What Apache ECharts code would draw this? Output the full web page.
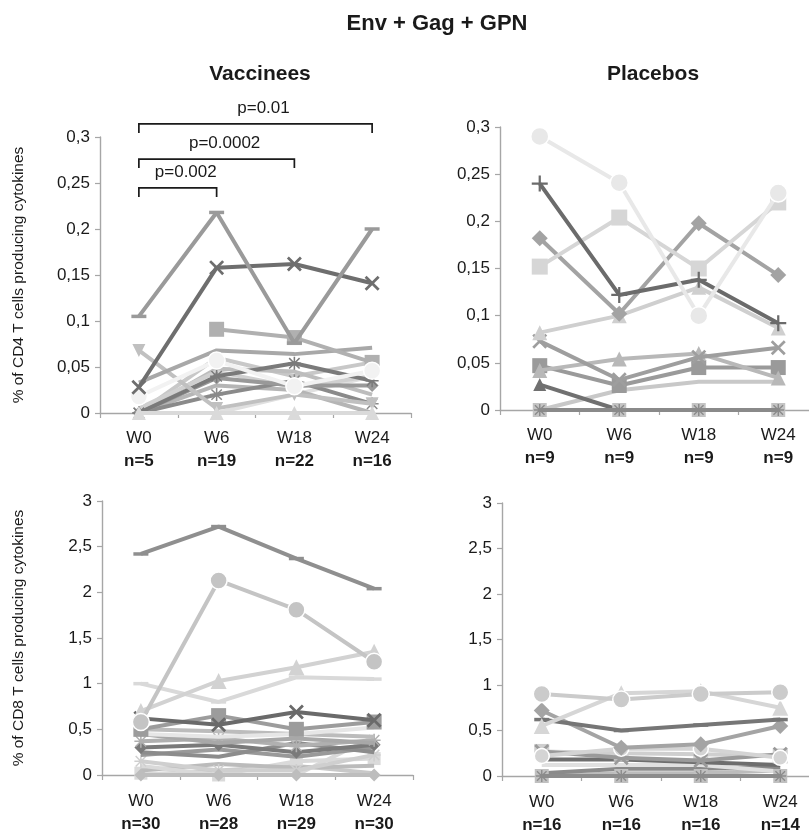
<!DOCTYPE html>
<html><head><meta charset="utf-8">
<script src="https://cdn.jsdelivr.net/npm/echarts@6/dist/echarts.min.js"></script>
<style>html,body{margin:0;padding:0;background:#fff}#c{width:809px;height:837px}</style>
</head><body><div id="c"></div><script>
// ---------- data ----------
const weeks = ['W0', 'W6', 'W18', 'W24'];
const nVacCD4 = [5, 19, 22, 16];
const nPlaCD4 = [9, 9, 9, 9];
const nVacCD8 = [30, 28, 29, 30];
const nPlaCD8 = [16, 16, 16, 14];
const ticksCD4 = ['0', '0,05', '0,1', '0,15', '0,2', '0,25', '0,3'];
const ticksCD8 = ['0', '0,5', '1', '1,5', '2', '2,5', '3'];

// each row = one subject: values at W0, W6, W18, W24
const vacCD4 = [
  [0, 0, 0.02, 0.04],
  [0, 0.03, 0.025, 0],
  [0, 0.06, 0.04, 0.055],
  [0, 0.048, 0.045, 0.02],
  [0.005, 0.045, 0.028, 0.04],
  [0, 0.02, 0.035, 0.01],
  [0, 0.038, 0.03, 0.03],
  [0, 0.04, 0.054, 0.035],
  [0.068, 0.005, 0.02, 0.01],
  [0.033, 0.068, 0.064, 0.071],
  [null, 0.091, 0.082, 0.055],
  [0, 0, 0, 0],
  [0.018, 0.057, 0.029, 0.046],
  [0.028, 0.158, 0.162, 0.141],
  [0.105, 0.218, 0.076, 0.2]
];
const plaCD4 = [
  [0, 0.021, 0.03, 0.03],
  [0.027, 0, null, null],
  [0.047, 0.026, 0.045, 0.045],
  [0.042, 0.054, 0.06, 0.034],
  [0.073, 0.032, 0.056, 0.066],
  [0.082, 0.1, 0.13, 0.087],
  [0.182, 0.102, 0.198, 0.143],
  [0.152, 0.204, 0.15, 0.22],
  [0.24, 0.122, 0.138, 0.092],
  [0.29, 0.241, 0.1, 0.23],
  [0, 0, 0, 0],
  [0, 0, 0, 0]
];
const vacCD8 = [
  [0, 0.05, 0.1, 0.02],
  [0.02, 0, 0.15, 0.18],
  [0.05, 0.12, 0.08, 0.1],
  [0.1, 0, 0, 0.42],
  [0.15, 0.05, 0.05, 0.22],
  [0.22, 0.28, 0.2, 0.3],
  [0.25, 0.2, 0.35, 0.25],
  [0.3, 0.33, 0.25, 0.33],
  [0.37, 0.4, 0.32, 0.38],
  [0.45, 0.35, 0.4, 0.35],
  [0.5, 0.48, 0.45, 0.42],
  [0.45, 0.42, 0.45, 0.52],
  [0.5, 0.65, 0.5, 0.58],
  [0.62, 0.55, 0.69, 0.6],
  [1.0, 0.8, 1.07, 1.05],
  [0.7, 1.03, 1.18, 1.35],
  [0.58, 2.13, 1.81, 1.24],
  [2.42, 2.72, 2.37, 2.04],
  [0, 0, 0, 0]
];
const plaCD8 = [
  [0, 0.03, 0.03, 0.06],
  [0.03, 0.08, 0.08, 0.1],
  [0.12, 0.12, 0.12, 0.05],
  [0.18, 0.18, 0.15, 0.12],
  [0.27, 0.25, 0.24, 0.22],
  [0.27, 0.2, 0.17, 0.24],
  [0.22, 0.3, 0.3, 0.2],
  [0.72, 0.31, 0.35, 0.55],
  [0.62, 0.5, 0.56, 0.62],
  [0.55, 0.91, 0.93, 0.75],
  [0.9, 0.84, 0.9, 0.92],
  [0, 0, 0, 0],
  [0, 0, 0, 0]
];
// p-value brackets on the vaccinee CD4 panel
const pFrom = ['W0', 'W0', 'W0'];
const pTo = ['W6', 'W18', 'W24'];
const pLevel = [0.2446, 0.276, 0.3142];
const pLabels = ['p=0.002', 'p=0.0002', 'p=0.01'];

// ---------- styles ----------
const SYM = {
  x: 'path://M0,1.3L1.3,0L5,3.7L8.7,0L10,1.3L6.3,5L10,8.7L8.7,10L5,6.3L1.3,10L0,8.7L3.7,5Z',
  plus: 'path://M4.3,0H5.7V4.3H10V5.7H5.7V10H4.3V5.7H0V4.3H4.3Z',
  star: 'path://M4.4,0H5.6V3.6L8.6,0.6L9.4,1.4L6.4,4.4H10V5.6H6.4L9.4,8.6L8.6,9.4L5.6,6.4V10H4.4V6.4L1.4,9.4L0.6,8.6L3.6,5.6H0V4.4H3.6L0.6,1.4L1.4,0.6L4.4,3.6Z'
};
// [symbol, color, size, rotate]
const stVacCD4 = [
  ['none', '#e0e0e0', 0], ['none', '#b5b5b5', 0], ['none', '#c8c8c8', 0], ['none', '#bdbdbd', 0],
  ['none', '#d0d0d0', 0], [SYM.star, '#8a8a8a', 13], ['diamond', '#999999', 13], [SYM.star, '#7a7a7a', 13],
  ['triangle', '#c0c0c0', 13, 180], ['none', '#a8a8a8', 0], ['rect', '#b0b0b0', 15], ['triangle', '#dadada', 14],
  ['circle', '#f2f2f2', 17], [SYM.x, '#6e6e6e', 15], ['rect', '#9a9a9a', [15, 3.5]]
];
const stPlaCD4 = [
  ['triangle', '#c8c8c8', 0], ['triangle', '#707070', 13], ['rect', '#9a9a9a', 15], ['triangle', '#b8b8b8', 15],
  [SYM.x, '#9e9e9e', 15], ['triangle', '#cfcfcf', 15], ['diamond', '#a3a3a3', 16], ['rect', '#d6d6d6', 16],
  [SYM.plus, '#6b6b6b', 16], ['circle', '#e8e8e8', 18], ['rect', '#c4c4c4', 14], [SYM.star, '#8a8a8a', 12]
];
const stVacCD8 = [
  ['none', '#c8c8c8', 0], ['rect', '#dadada', 13], ['none', '#bbbbbb', 0], ['none', '#d9d9d9', 0],
  [SYM.star, '#cfcfcf', 13], ['none', '#999999', 0], ['none', '#8c8c8c', 0], ['diamond', '#7a7a7a', 13],
  [SYM.star, '#b0b0b0', 13], ['none', '#a8a8a8', 0], ['none', '#bcbcbc', 0], ['none', '#e6e6e6', 0],
  ['rect', '#9c9c9c', 15], [SYM.x, '#6a6a6a', 15], ['rect', '#d9d9d9', [15, 3.5]], ['triangle', '#d2d2d2', 16],
  ['circle', '#c4c4c4', 17], ['rect', '#8f8f8f', [15, 3.5]], ['diamond', '#bdbdbd', 13]
];
const stPlaCD8 = [
  ['none', '#bcbcbc', 0], ['none', '#8a8a8a', 0], ['none', '#e0e0e0', 0], ['none', '#6e6e6e', 0],
  ['rect', '#cfcfcf', 15], [SYM.x, '#9a9a9a', 15], ['circle', '#d4d4d4', 15], ['diamond', '#a4a4a4', 16],
  ['rect', '#767676', [15, 3.5]], ['triangle', '#d6d6d6', 16], ['circle', '#cbcbcb', 17],
  ['rect', '#c0c0c0', 14], [SYM.star, '#8c8c8c', 12]
];

const FONT = 'Liberation Sans, Arial, sans-serif';
const grids = [
  { left: 100, top: 137, width: 311, height: 276 },
  { left: 500, top: 127, width: 318, height: 283 },
  { left: 102, top: 501, width: 311, height: 274 },
  { left: 502, top: 503, width: 318, height: 273 }
];
const nLists = [nVacCD4, nPlaCD4, nVacCD8, nPlaCD8];
const panels = [[vacCD4, stVacCD4], [plaCD4, stPlaCD4], [vacCD8, stVacCD8], [plaCD8, stPlaCD8]];

const xAxis = grids.map((g, i) => ({
  type: 'category', gridIndex: i, data: weeks, boundaryGap: true,
  axisLine: { lineStyle: { color: '#a6a6a6', width: 1.4 } },
  axisTick: { show: true, length: 5, inside: false, lineStyle: { color: '#a6a6a6', width: 1.2 } },
  axisLabel: {
    margin: i < 2 ? 14 : 15, interval: 0,
    formatter: (v, idx) => '{a|' + v + '}\n{b|n=' + nLists[i][idx] + '}',
    rich: {
      a: { fontFamily: FONT, fontSize: 17, color: '#1a1a1a', lineHeight: 23 },
      b: { fontFamily: FONT, fontSize: 17, fontWeight: 'bold', color: '#1a1a1a', lineHeight: 23 }
    }
  },
  splitLine: { show: false }
}));
const yAxis = grids.map((g, i) => {
  const cd4 = i < 2;
  const ticks = cd4 ? ticksCD4 : ticksCD8;
  const step = cd4 ? 0.05 : 0.5;
  return {
    type: 'value', gridIndex: i, min: 0, max: cd4 ? 0.3 : 3, interval: step,
    axisLine: { show: true, lineStyle: { color: '#a6a6a6', width: 1.4 } },
    axisTick: { show: true, length: 5, lineStyle: { color: '#a6a6a6', width: 1.2 } },
    axisLabel: {
      margin: 10, fontFamily: FONT, fontSize: 17, color: '#1a1a1a',
      formatter: v => ticks[Math.round(v / step)]
    },
    splitLine: { show: false },
    name: i === 0 ? '% of CD4 T cells producing cytokines' : (i === 2 ? '% of CD8 T cells producing cytokines' : ''),
    nameLocation: 'middle', nameRotate: 90, nameGap: i === 0 ? 73 : 75,
    nameTextStyle: { fontFamily: FONT, fontSize: 15.5, color: '#1a1a1a' }
  };
});

const series = [];
panels.forEach(([rows, styles], gi) => {
  rows.forEach((vals, k) => {
    const st = styles[k];
    const isCircle = st[0] === 'circle';
    series.push({
      type: 'line', xAxisIndex: gi, yAxisIndex: gi, data: vals,
      symbol: st[0], symbolSize: st[2] || 1, symbolRotate: st[3] || 0,
      showSymbol: st[0] !== 'none', connectNulls: false,
      lineStyle: { color: st[1], width: 4 },
      itemStyle: { color: st[1], borderColor: isCircle ? '#ffffff' : st[1], borderWidth: isCircle ? 1.5 : 0, opacity: 1 },
      emphasis: { disabled: true }, animation: false, silent: true, clip: false,
      z: 2 + k
    });
  });
});

const option = {
  backgroundColor: '#ffffff',
  animation: false,
  title: [
    { text: 'Env + Gag + GPN', left: 432, top: 8, textAlign: 'center',
      textStyle: { fontFamily: FONT, fontSize: 22, fontWeight: 'bold', color: '#1a1a1a' } },
    { text: 'Vaccinees', left: 255, top: 59, textAlign: 'center',
      textStyle: { fontFamily: FONT, fontSize: 21, fontWeight: 'bold', color: '#1a1a1a' } },
    { text: 'Placebos', left: 648, top: 59, textAlign: 'center',
      textStyle: { fontFamily: FONT, fontSize: 21, fontWeight: 'bold', color: '#1a1a1a' } }
  ],
  grid: grids.map(g => Object.assign({ containLabel: false, outerBoundsMode: 'none' }, g)),
  xAxis, yAxis, series
};

const chart = echarts.init(document.getElementById('c'), null, { renderer: 'canvas' });
chart.setOption(option);

// brackets drawn from axis scales
const elems = [];
pTo.forEach((to, k) => {
  const x1 = chart.convertToPixel({ xAxisIndex: 0 }, pFrom[k]);
  const x2 = chart.convertToPixel({ xAxisIndex: 0 }, to);
  const y = chart.convertToPixel({ yAxisIndex: 0 }, pLevel[k]);
  elems.push({
    type: 'polyline', silent: true,
    shape: { points: [[x1, y + 9], [x1, y], [x2, y], [x2, y + 9]] },
    style: { stroke: '#1a1a1a', lineWidth: 1.7, fill: null }
  });
  elems.push({
    type: 'text', silent: true,
    style: { text: pLabels[k], x: (x1 + x2) / 2 + 8, y: y - 16, align: 'center', verticalAlign: 'middle',
      font: '17px ' + FONT, fill: '#1a1a1a' }
  });
});
chart.setOption({ graphic: elems });
</script></body></html>
